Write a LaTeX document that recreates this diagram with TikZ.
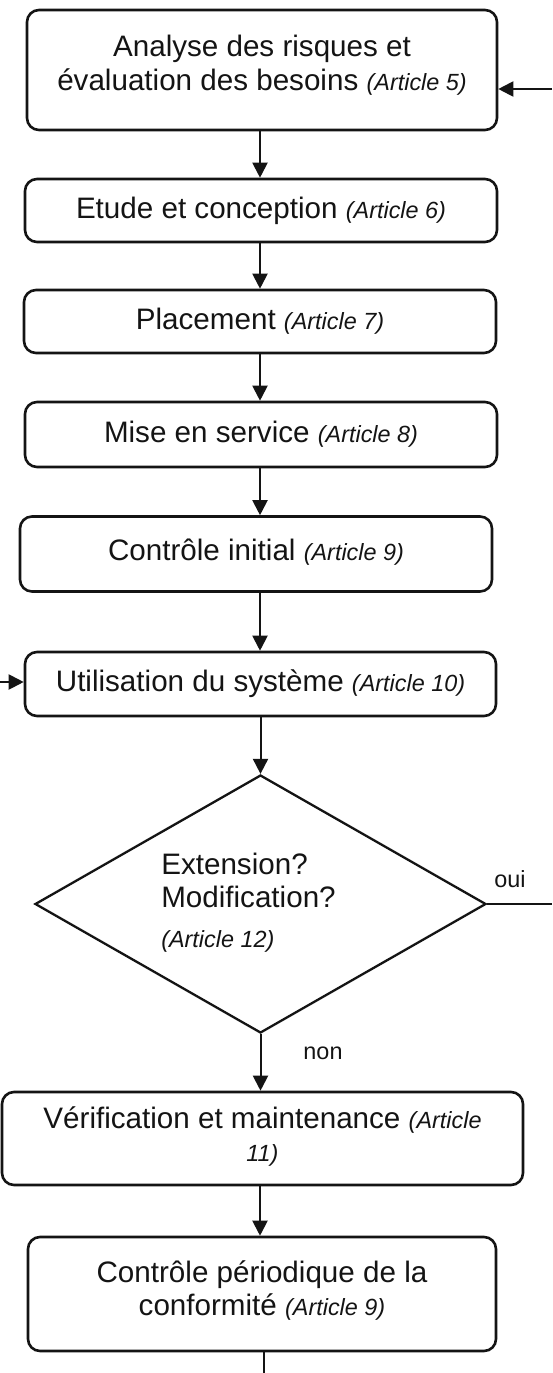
\documentclass[tikz,border=0pt]{standalone}
\usepackage{fontspec}
\setmainfont{Liberation Sans}
\usetikzlibrary{shapes.geometric,arrows.meta,calc}

\definecolor{ink}{HTML}{141414}
\newcommand\bodyfont{\fontsize{29.6}{33.5}\selectfont}
\newcommand\tagfont{\fontsize{23.4}{28}\selectfont}
% article reference, set smaller and in italics
\newcommand\art[1]{{\tagfont\itshape(Article #1)}}
\newcommand\artbit[1]{{\tagfont\itshape #1}}
% lifts a text inside its box by adding depth below it
\newcommand\lifttext[2]{\raisebox{0pt}[\height][\dimexpr\depth+#1\relax]{#2}}

\begin{document}
\begin{tikzpicture}[x=1pt,y=-1pt,
  every node/.style={text=ink, font=\bodyfont},
  box/.style={draw=ink, line width=2.6pt, rounded corners=12pt, inner sep=0pt, align=center},
  decision/.style={draw=ink, line width=2.3pt, diamond, shape aspect=1.75, inner sep=1pt},
  flow/.style={draw=ink, line width=2pt, -{Triangle[length=15pt,width=15pt]}},
  plain/.style={draw=ink, line width=2pt},
  tag/.style={font=\tagfont, inner sep=0pt}]

\fill[white] (0,0) rectangle (552,1373);
\useasboundingbox (0,0) rectangle (552,1373);

\coordinate (col) at (260,0);

% process steps
\node[box, minimum width=470pt, minimum height=120pt] (b1) at (262,70)
  {\lifttext{6pt}{\begin{tabular}{@{}c@{}}Analyse des risques et\\évaluation des besoins \art{5}\end{tabular}}};
\node[box, minimum width=472pt, minimum height=63pt] (b2) at (261,210.5)
  {Etude et conception \art{6}};
\node[box, minimum width=472pt, minimum height=63pt] (b3) at (260,321.5)
  {Placement \art{7}};
\node[box, minimum width=472pt, minimum height=65pt] (b4) at (261,434.5)
  {Mise en service \art{8}};
\node[box, minimum width=472pt, minimum height=75pt] (b5) at (256,554)
  {\lifttext{3pt}{Contrôle initial \art{9}}};
\node[box, minimum width=471pt, minimum height=64pt] (b6) at (260.5,684)
  {Utilisation du système \art{10}};

% decision
\node[decision, minimum width=451pt, minimum height=258pt] (dec) at (260.5,904)
  {\begin{tabular}{@{}l@{}}Extension?\\Modification?\\[6pt]\art{12}\end{tabular}\hspace*{24pt}};

\node[box, minimum width=521pt, minimum height=93pt] (b7) at (262.5,1138.5)
  {\begin{tabular}{@{}c@{}}Vérification et maintenance \artbit{(Article}\\\artbit{11)}\end{tabular}};
\node[box, minimum width=468pt, minimum height=114pt] (b8) at (262,1294)
  {\lifttext{3pt}{\begin{tabular}{@{}c@{}}Contrôle périodique de la\\conformité \art{9}\end{tabular}}};

% branch labels
\node[tag] (oui) at (510,879) {oui};
\node[tag] (non) at (323,1053) {non};

% loose ends of the loops
\coordinate (back) at (552,89);
\coordinate (loop) at (0,682);
\coordinate (yes) at (552,904);
\coordinate (out) at (264,1373);

% connectors
\draw[flow] (b1.south -| col) -- (b2.north -| col);
\draw[flow] (b2.south -| col) -- (b3.north -| col);
\draw[flow] (b3.south -| col) -- (b4.north -| col);
\draw[flow] (b4.south -| col) -- (b5.north -| col);
\draw[flow] (b5.south -| col) -- (b6.north -| col);
\draw[flow] (b6.south -| dec.north) -- (dec.north);
\draw[flow] (dec.south) -- (dec.south |- b7.north);
\draw[flow] (b7.south -| col) -- (b8.north -| col);
\draw[plain] (b8.south -| out) -- (out);
\draw[plain] (dec.east) -- (yes);
\draw[flow] (back) -- (back -| b1.east);
\draw[flow] (loop) -- (loop -| b6.west);
\end{tikzpicture}
\end{document}
